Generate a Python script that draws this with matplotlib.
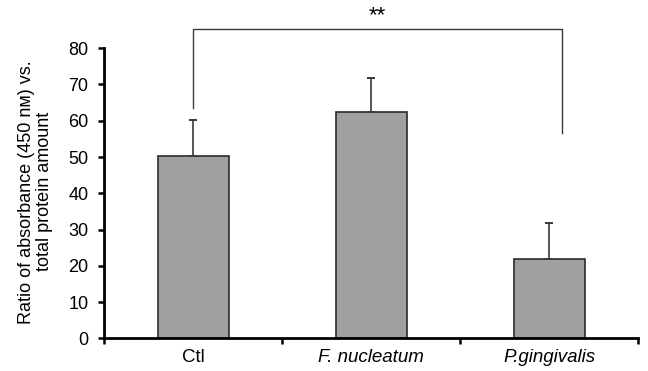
import matplotlib.pyplot as plt

# Data
groups = ['Ctl', 'F. nucleatum', 'P.gingivalis']
means = [50.3, 62.3, 21.8]
errors = [9.8, 9.6, 9.9]
yticks = [0, 10, 20, 30, 40, 50, 60, 70, 80]

plt.rcParams['font.family'] = ['Liberation Sans', 'DejaVu Sans']

fig = plt.figure(figsize=(6.48, 3.71), dpi=100)
ax = fig.add_axes([0.161, 0.088, 0.824, 0.782])

x = list(range(len(groups)))
ax.bar(x, means, width=0.40, color='#a0a0a2', edgecolor='#2b2b2b', linewidth=1.2,
       zorder=2)
ax.errorbar(x, means, yerr=[[0] * len(errors), errors], fmt='none',
            ecolor='#3a3a3a', elinewidth=1.2, capsize=2.6, capthick=1.4, zorder=3)

ax.set_xlim(-0.5, 2.5)
ax.set_ylim(0, 80)
ax.set_yticks(yticks)
ax.set_xticks(x)
ax.set_xticklabels(groups)
for lab in ax.get_xticklabels()[1:]:
    lab.set_fontstyle('italic')
ax.set_xticks([-0.5, 0.5, 1.5, 2.5], minor=True)
ax.tick_params(axis='x', which='major', length=0, pad=8, labelsize=13.5)
ax.tick_params(axis='x', which='minor', length=4.5, width=1.8, direction='out')
ax.tick_params(axis='y', length=4.5, width=1.8, direction='out', labelsize=13, pad=7)

for side in ['top', 'right']:
    ax.spines[side].set_visible(False)
for side in ['left', 'bottom']:
    ax.spines[side].set_linewidth(2.0)

ax.set_ylabel('Ratio of absorbance (450 n\u1d0d) vs.\ntotal protein amount',
              fontsize=13, linespacing=1.1)
ax.yaxis.set_label_coords(-0.096, 0.505)

# Significance bracket
left_x, right_x = 0.0, 2.07
top_y = 85.2
ax.plot([left_x, left_x, right_x, right_x], [63.6, top_y, top_y, 56.7],
        color='#3a3a3a', linewidth=1.0, clip_on=False)
ax.text((left_x + right_x) / 2, top_y + 1.0, '**', ha='center', va='bottom',
        fontsize=16, clip_on=False)

fig.savefig('out.png', dpi=100)
